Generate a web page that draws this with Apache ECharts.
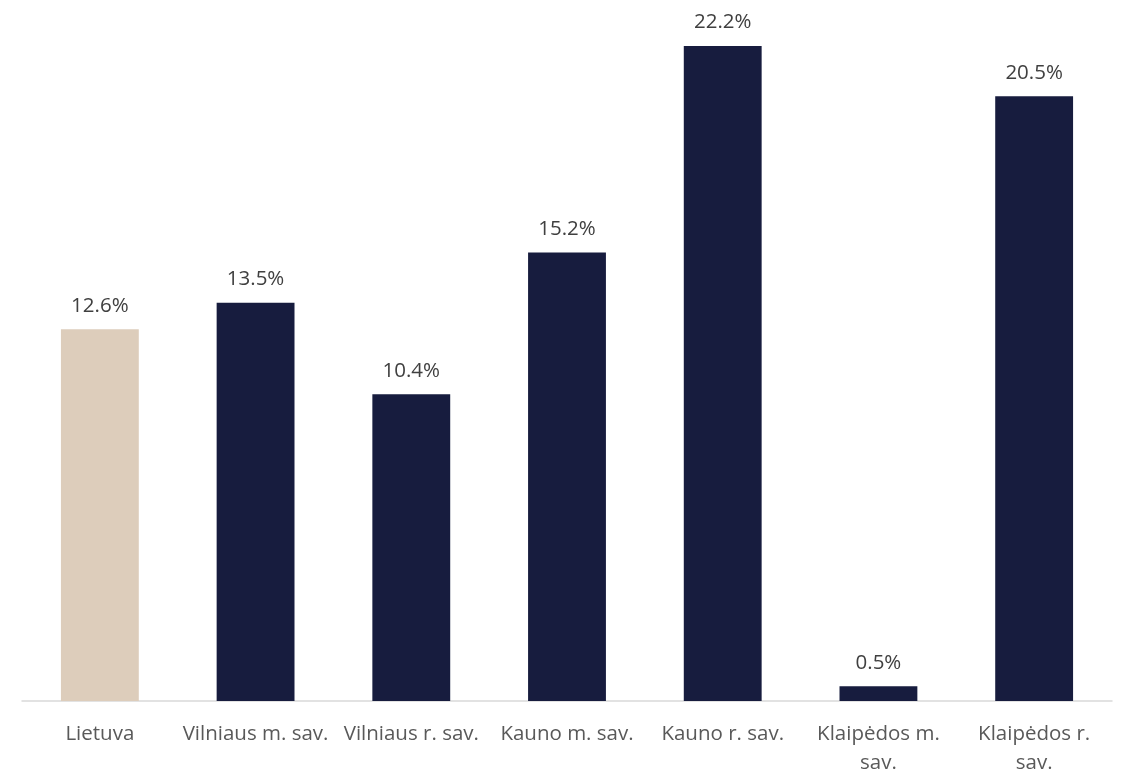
<!DOCTYPE html>
<html><head><meta charset="utf-8">
<script src="https://cdn.jsdelivr.net/npm/echarts@6/dist/echarts.min.js"></script>
<style>html,body{margin:0;padding:0;background:#fff}#c{width:1125px;height:770px}</style>
</head><body><div id="c"></div>
<script>
const categories = ["Lietuva", "Vilniaus m. sav.", "Vilniaus r. sav.", "Kauno m. sav.", "Kauno r. sav.", "Klaipėdos m.\nsav.", "Klaipėdos r.\nsav."];
const values = [12.6, 13.5, 10.4, 15.2, 22.2, 0.5, 20.5];
const highlight = ["Lietuva"];
const chart = echarts.init(document.getElementById('c'));
chart.setOption({
  animation: false,
  grid: {left: 22, right: 13, top: 22.5, bottom: 69, outerBoundsMode: 'none', containLabel: false},
  xAxis: {
    type: 'category', data: categories,
    axisLine: {lineStyle: {color: '#d9d9d9', width: 1.5}},
    axisTick: {show: false},
    axisLabel: {color: '#595959', fontFamily: 'Open Sans', fontSize: 20.5, margin: 19, lineHeight: 29, interval: 0}
  },
  yAxis: {type: 'value', min: 0, max: 23, show: false, splitLine: {show: false}},
  series: [{
    type: 'bar', barWidth: '50%',
    data: values.map((v, i) => ({value: v, itemStyle: {color: highlight.includes(categories[i]) ? '#ddcdbb' : '#171c3e'}})),
    label: {show: true, position: 'top', distance: 13, color: '#404040', fontFamily: 'Open Sans', fontSize: 20.5,
      formatter: p => p.value.toFixed(1) + '%'}
  }]
});
</script></body></html>
